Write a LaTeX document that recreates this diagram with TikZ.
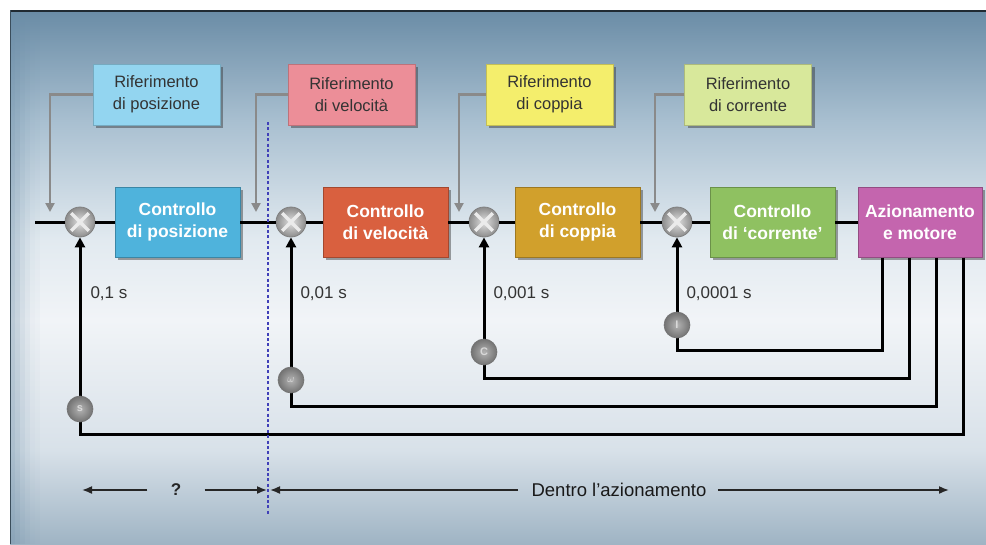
\documentclass[tikz,border=0pt]{standalone}
\usepackage{fontspec}
\setmainfont{Liberation Sans}
\usetikzlibrary{shadows,arrows.meta,calc}
\definecolor{bgA}{HTML}{6A8CA6}
\definecolor{bgB}{HTML}{A8BFD0}
\definecolor{bgC}{HTML}{E2EAF0}
\definecolor{bgD}{HTML}{F1F4F7}
\definecolor{bgE}{HTML}{D8E1E9}
\definecolor{bgF}{HTML}{9FB4C4}
\definecolor{cPos}{HTML}{4FB3DC}
\definecolor{cVel}{HTML}{D9603F}
\definecolor{cCop}{HTML}{D1A02C}
\definecolor{cCor}{HTML}{8FC161}
\definecolor{cAz}{HTML}{C465AE}
\definecolor{rPos}{HTML}{93D5F0}
\definecolor{rVel}{HTML}{EC8E98}
\definecolor{rCop}{HTML}{F4EE6C}
\definecolor{rCor}{HTML}{D8E89B}
\definecolor{txtg}{HTML}{333333}
\definecolor{refline}{HTML}{8A8A8A}
\definecolor{dashblue}{HTML}{4040B8}
\tikzset{
  ctrlbox/.style={draw=#1!75!black, line width=0.6pt, fill=#1, minimum width=125pt, minimum height=70pt,
    inner sep=0pt, align=center, text=white, font=\fontsize{17.5}{22}\selectfont\bfseries,
    drop shadow={shadow xshift=3pt, shadow yshift=-3pt, opacity=0.45, fill=black!80}},
  refbox/.style={draw=#1!80!black, line width=0.5pt, fill=#1, minimum width=127pt, minimum height=61pt,
    inner sep=0pt, align=center, text=txtg, font=\fontsize{16.5}{22}\selectfont,
    drop shadow={shadow xshift=3pt, shadow yshift=-3pt, opacity=0.45, fill=black!80}},
  sumj/.style={circle, minimum size=30pt, inner sep=0pt, draw=black!50, line width=0.8pt,
    inner color=black!12, outer color=black!45},
  meas/.style={circle, minimum size=26pt, inner sep=0pt, draw=black!55, line width=0.6pt,
    inner color=black!30, outer color=black!55, text=black!15, font=\fontsize{11}{11}\selectfont\bfseries},
  mainline/.style={line width=3pt, black},
  fb/.style={line width=3pt, black, -{Triangle[length=10pt,width=10pt]}},
  refarr/.style={line width=2.5pt, refline, -{Triangle[length=9pt,width=9pt]}},
  botarr/.style={line width=1.6pt, black!85, -{Latex[length=10pt,width=8pt]}},
  tlabel/.style={anchor=west, text=txtg, font=\fontsize{17}{17}\selectfont},
}
\begin{document}
\begin{tikzpicture}[x=1pt,y=-1pt]
\useasboundingbox (0,0) rectangle (986,544);
\fill[white] (0,0) rectangle (986,544);
% background gradient
\shade[top color=bgA, bottom color=bgB] (10,10) rectangle (986,120.5);
\shade[top color=bgB, bottom color=bgC] (10,120) rectangle (986,240.5);
\shade[top color=bgC, bottom color=bgD] (10,240) rectangle (986,320.5);
\shade[top color=bgD, bottom color=bgE] (10,320) rectangle (986,450.5);
\shade[top color=bgE, bottom color=bgF] (10,450) rectangle (986,544);
\foreach \i/\o in {0/0.4,5/0.3,10/0.2,15/0.12,20/0.06,25/0.03}
  \fill[bgA, opacity=\o] (10+\i,10) rectangle (15+\i,544);
\draw[line width=2.5pt, black!70!bgA] (10,11) -- (986,11);
\draw[line width=1.5pt, black!45!bgA] (10.5,10) -- (10.5,544);

% reference boxes
\node[refbox=rPos] (r1) at (156.5,94.5) {Riferimento\\di posizione};
\node[refbox=rVel] (r2) at (351.5,94.5) {Riferimento\\di velocità};
\node[refbox=rCop] (r3) at (549.5,94.5) {Riferimento\\di coppia};
\node[refbox=rCor] (r4) at (748,94.5) {Riferimento\\di corrente};

% summing junctions
\node[sumj] (s1) at (80,222) {};
\node[sumj] (s2) at (291,222) {};
\node[sumj] (s3) at (484,222) {};
\node[sumj] (s4) at (677,222) {};
\foreach \s in {s1,s2,s3,s4}{
  \draw[white!92!black, line width=3.5pt, shorten >=3pt, shorten <=3pt] (\s.45) -- (\s.225);
  \draw[white!92!black, line width=3.5pt, shorten >=3pt, shorten <=3pt] (\s.135) -- (\s.315);
}

% control boxes
\node[ctrlbox=cPos] (b1) at (177.5,222) {Controllo\\di posizione};
\node[ctrlbox=cVel] (b2) at (385.5,222) {Controllo\\di velocità};
\node[ctrlbox=cCop] (b3) at (577.5,222) {Controllo\\di coppia};
\node[ctrlbox=cCor] (b4) at (772.5,222) {Controllo\\di ‘corrente’};
\node[ctrlbox=cAz, minimum width=124pt] (az) at (920,222) {Azionamento\\e motore};

% main line
\coordinate (in) at (35,222);
\draw[mainline] (in) -- (s1.west);
\draw[mainline] (s1.east) -- (b1.west);
\draw[mainline] (b1.east) -- (s2.west);
\draw[mainline] (s2.east) -- (b2.west);
\draw[mainline] (b2.east) -- (s3.west);
\draw[mainline] (s3.east) -- (b3.west);
\draw[mainline] (b3.east) -- (s4.west);
\draw[mainline] (s4.east) -- (b4.west);
\draw[mainline] (b4.east) -- (az.west);

% reference arrows
\coordinate (a1) at (50,212);
\coordinate (a2) at (256,212);
\coordinate (a3) at (459,212);
\coordinate (a4) at (655,212);
\draw[refarr] (r1.west) -| (a1);
\draw[refarr] (r2.west) -| (a2);
\draw[refarr] (r3.west) -| (a3);
\draw[refarr] (r4.west) -| (a4);

% feedback paths
\coordinate (f1) at (963,257.5);
\coordinate (f2) at (936,257.5);
\coordinate (f3) at (909,257.5);
\coordinate (f4) at (882,257.5);
\coordinate (c1) at (963,434);
\coordinate (c2) at (936,406);
\coordinate (c3) at (909,378);
\coordinate (c4) at (882,350);
\draw[fb] (f1) -- (c1) -| (s1.south);
\draw[fb] (f2) -- (c2) -| (s2.south);
\draw[fb] (f3) -- (c3) -| (s3.south);
\draw[fb] (f4) -- (c4) -| (s4.south);

% measurement circles
\node[meas] (m1) at (80,409) {s};
\node[meas] (m2) at (291,380) {$\omega$};
\node[meas] (m3) at (484,352) {C};
\node[meas] (m4) at (677,325) {I};

% time labels
\node[tlabel] (t1) at (87,294) {0,1 s};
\node[tlabel] (t2) at (297,294) {0,01 s};
\node[tlabel] (t3) at (490,294) {0,001 s};
\node[tlabel] (t4) at (683,294) {0,0001 s};

% boundary
\coordinate (dv1) at (268,122);
\coordinate (dv2) at (268,516);
\draw[dashblue, line width=2.6pt, dash pattern=on 3pt off 2.4pt] (dv1) -- (dv2);

% bottom arrows
\node[font=\fontsize{17}{17}\selectfont\bfseries, text=black!85] (q) at (176,490) {?};
\node[font=\fontsize{18.5}{18.5}\selectfont, text=black!90] (d) at (619,490) {Dentro l’azionamento};
\coordinate (e1) at (82,490);
\coordinate (e2) at (267,490);
\coordinate (e3) at (270,490);
\coordinate (e4) at (949,490);
\draw[botarr] ([xshift=-20pt]q.west) -- (e1);
\draw[botarr] ([xshift=20pt]q.east) -- (e2);
\draw[botarr] ([xshift=-10pt]d.west) -- (e3);
\draw[botarr] ([xshift=8pt]d.east) -- (e4);
\end{tikzpicture}
\end{document}
